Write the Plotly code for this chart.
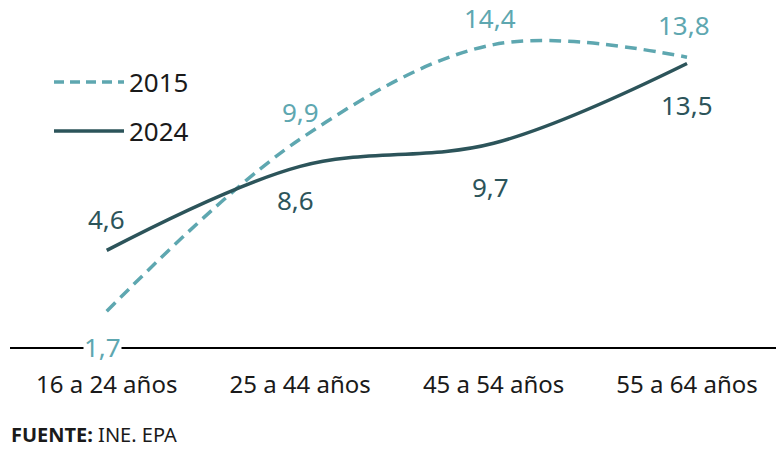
import plotly.graph_objects as go

categories = ["16 a 24 años", "25 a 44 años", "45 a 54 años", "55 a 64 años"]
values_2015 = [1.7, 9.9, 14.4, 13.8]
values_2024 = [4.6, 8.6, 9.7, 13.5]
labels_2015 = ["1,7", "9,9", "14,4", "13,8"]
labels_2024 = ["4,6", "8,6", "9,7", "13,5"]

C15 = "#5ea7b0"
C24 = "#2c545a"
TXT = "#1a1a1a"
FONT = "Noto Sans, sans-serif"
DASH = "12px,7px"

x = list(range(len(categories)))

fig = go.Figure()
fig.add_trace(go.Scatter(x=x, y=values_2015, mode="lines", name="2015",
                         line=dict(color=C15, width=3.5, dash=DASH, shape="spline", smoothing=1.0),
                         hoverinfo="skip"))
fig.add_trace(go.Scatter(x=x, y=values_2024, mode="lines", name="2024",
                         line=dict(color=C24, width=3.5, shape="spline", smoothing=1.0),
                         hoverinfo="skip"))

# value labels: offsets in pixels
off15 = [(-4, 0), (0, 27), (-4, 27), (-3, 32)]
off24 = [(0, 31), (-5, -34), (-3, -44), (0, -41)]
for i in x:
    dx, dy = off15[i]
    fig.add_annotation(x=i, y=values_2015[i] if i else 0, text=labels_2015[i], showarrow=False,
                       xshift=dx, yshift=dy, font=dict(size=26, color=C15, family=FONT),
                       bgcolor="white" if i == 0 else None, borderpad=0)
    dx, dy = off24[i]
    fig.add_annotation(x=i, y=values_2024[i], text=labels_2024[i], showarrow=False,
                       xshift=dx, yshift=dy, borderpad=0,
                       font=dict(size=26, color=C24, family=FONT))

# custom legend
ly1 = (450 - 103 - 82) / 336
ly2 = (450 - 103 - 131) / 336
fig.add_shape(type="line", xref="paper", yref="paper", x0=(54-10)/766, x1=(124-10)/766,
              y0=ly1, y1=ly1, line=dict(color=C15, width=3.5, dash="10px,6px"))
fig.add_shape(type="line", xref="paper", yref="paper", x0=(54-10)/766, x1=(124-10)/766,
              y0=ly2, y1=ly2, line=dict(color=C24, width=3.5))
fig.add_annotation(xref="paper", yref="paper", x=(127-10)/766, y=ly1, text="2015",
                   showarrow=False, xanchor="left", yanchor="middle",
                   font=dict(size=26, color=TXT, family=FONT))
fig.add_annotation(xref="paper", yref="paper", x=(127-10)/766, y=ly2, text="2024",
                   showarrow=False, xanchor="left", yanchor="middle",
                   font=dict(size=26, color=TXT, family=FONT))

# source
fig.add_annotation(xref="paper", yref="paper", x=0, y=-(449-347)/336, text="<b>FUENTE:</b> INE. EPA",
                   showarrow=False, xanchor="left", yanchor="bottom", borderpad=0,
                   font=dict(size=20, color=TXT, family=FONT))

fig.update_layout(
    width=776, height=450,
    margin=dict(l=10, r=0, t=11, b=103),
    paper_bgcolor="white", plot_bgcolor="white",
    showlegend=False,
    font=dict(family=FONT, color=TXT),
    xaxis=dict(range=[-0.5, 3.46], tickvals=x, ticktext=categories, showgrid=False,
               zeroline=False, showline=True, linecolor="black", linewidth=1.5,
               ticks="", ticklabelstandoff=15, tickfont=dict(size=24, color=TXT, family=FONT)),
    yaxis=dict(range=[0, 16], showgrid=False, zeroline=False, showticklabels=False, showline=False),
)

fig.write_html("out.html", config={"displayModeBar": False},
               post_script="document.body.style.margin='0';")
